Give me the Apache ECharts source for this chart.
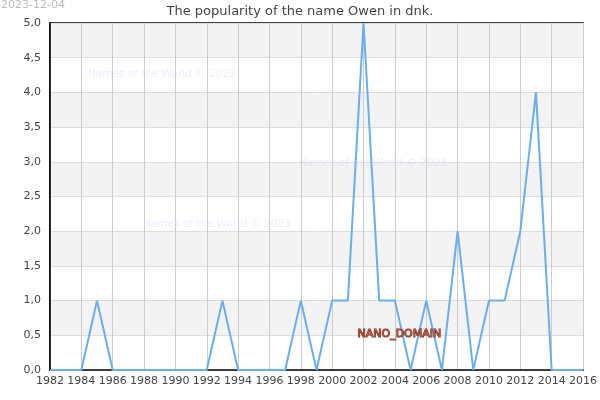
<!DOCTYPE html>
<html><head><meta charset="utf-8">
<script src="https://cdn.jsdelivr.net/npm/echarts@6/dist/echarts.min.js"></script>
<style>html,body{margin:0;padding:0;background:#fff}#c{width:600px;height:400px}</style>
</head><body><div id="c"></div>
<script>
var years = [1982,1983,1984,1985,1986,1987,1988,1989,1990,1991,1992,1993,1994,1995,1996,1997,1998,1999,2000,2001,2002,2003,2004,2005,2006,2007,2008,2009,2010,2011,2012,2013,2014,2015,2016];
var values = [0,0,0,1,0,0,0,0,0,0,0,1,0,0,0,0,1,0,1,1,5,1,1,0,1,0,2,0,1,1,2,4,0,0,0];
var titleText = 'The popularity of the name Owen in dnk.';
var dateText = '2023-12-04';
var watermark = 'Names of the World \u00a9 2023';
var domainText = 'NANO_DOMAIN';

var chart = echarts.init(document.getElementById('c'), null, {renderer:'canvas'});
var font = 'DejaVu Sans';
chart.setOption({
  animation:false,
  textStyle:{fontFamily:font},
  title:{text:titleText,left:'center',top:0,textStyle:{fontFamily:font,fontSize:13,fontWeight:'normal',color:'#444'}},
  grid:{left:50,right:14,top:23,bottom:30,show:true,borderColor:'#000',borderWidth:1.5,backgroundColor:'transparent'},
  xAxis:{type:'value',min:1982,max:2016,interval:2,
    axisLine:{show:true,lineStyle:{color:'#000',width:1.5}},
    axisTick:{show:false},
    axisLabel:{color:'#444',fontSize:11,fontFamily:font,margin:6,formatter:function(v){return String(v);}},
    splitLine:{show:true,lineStyle:{color:'#ccc',width:1}}},
  yAxis:{type:'value',min:0,max:5,interval:0.5,
    axisLine:{show:true,lineStyle:{color:'#000',width:1.5}},
    axisTick:{show:false},
    axisLabel:{color:'#444',fontSize:11,fontFamily:font,margin:9,formatter:function(v){return v.toFixed(1).replace('.',',');}},
    splitLine:{show:true,lineStyle:{color:'#ddd',width:1}},
    splitArea:{show:true,areaStyle:{color:['#ffffff','#f3f3f3']}}},
  series:[{type:'line',data:years.map(function(y,i){return [y,values[i]];}),
    showSymbol:false,symbol:'none',lineStyle:{color:'#6aaef0',width:2},z:3}],
  graphic:[
    {type:'text',left:1,top:0,style:{text:dateText,fill:'#bbb',font:'11px '+font}},
    {type:'text',left:88,top:69,z:10,style:{text:watermark,fill:'rgba(215,215,255,0.45)',font:'10.5px '+font}},
    {type:'text',left:299,top:158,z:10,style:{text:watermark,fill:'rgba(215,215,255,0.45)',font:'10.5px '+font}},
    {type:'text',left:143,top:219,z:10,style:{text:watermark,fill:'rgba(215,215,255,0.45)',font:'10.5px '+font}},
    {type:'text',left:357,top:328,z:10,style:{text:domainText,fill:'#b55a45',stroke:'#7a2a1a',lineWidth:1,font:'11px '+font}}
  ]
});
</script></body></html>
